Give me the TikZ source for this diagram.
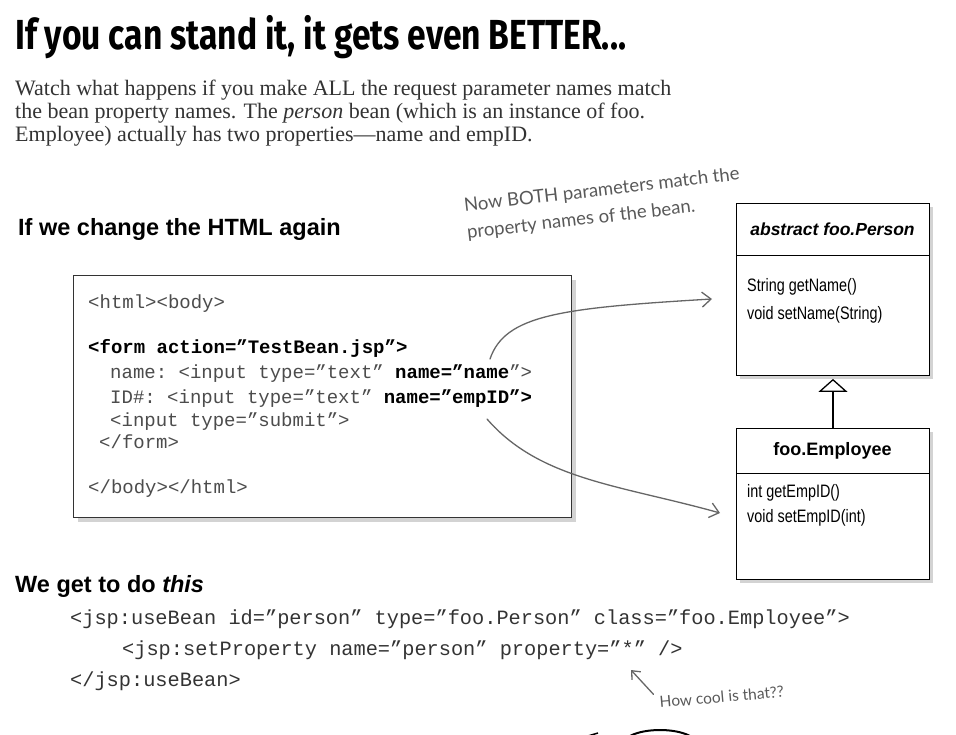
\documentclass[tikz,border=0pt]{standalone}
\usepackage{fontspec}
\setmainfont{Liberation Serif}
\setsansfont{Liberation Sans}
\setmonofont{Liberation Mono}
\newfontfamily\titlefont[FakeStretch=0.8]{Fira Sans}
\newfontfamily\handfont{Lato}
\newfontfamily\narrowfont[FakeStretch=0.8]{Liberation Sans}
\usetikzlibrary{arrows.meta,shadows,calc}

\tikzset{
    umlbox/.style={draw=black, fill=white, line width=0.9pt, anchor=north west,
        inner sep=0pt, drop shadow={shadow xshift=4pt, shadow yshift=-4pt, opacity=0.35}},
    codebox/.style={draw=black!80, fill=white, line width=0.9pt, anchor=north west,
        inner sep=0pt, drop shadow={shadow xshift=5pt, shadow yshift=-5pt, opacity=0.35}},
    codeline/.style={anchor=base west, inner sep=0pt, text=black!70,
        font=\ttfamily\fontsize{19}{22}\selectfont},
    jspline/.style={anchor=base west, inner sep=0pt, text=black!80,
        font=\ttfamily\fontsize{20.3}{24}\selectfont},
    method/.style={anchor=base west, inner sep=0pt, font=\narrowfont\fontsize{18}{22}\selectfont},
    heading/.style={anchor=base west, inner sep=0pt, font=\sffamily\bfseries\fontsize{23.5}{26}\selectfont},
    bodytext/.style={anchor=base west, inner sep=0pt, text=black!80, font=\fontsize{22}{24}\selectfont},
    hand/.style={anchor=base west, inner sep=0pt, text=black!65, rotate=6.6,
        font=\handfont\fontsize{18.5}{27}\selectfont},
    scribble/.style={draw=black!60, line width=1.3pt, line cap=round},
}

\begin{document}
\begin{tikzpicture}[x=1pt, y=-1pt]
    \useasboundingbox (0,0) rectangle (956,735);

    % title and intro
    \node[anchor=base west, inner sep=0pt, font=\titlefont\bfseries\fontsize{42}{44}\selectfont] (title) at (15,50)
        {If you can stand it, it gets even BETTER...};
    \node[bodytext] (intro1) at (15,96) {Watch what happens if you make ALL the request parameter names match};
    \node[bodytext] (intro2) at (15,119) {the bean property names. The \textit{person} bean (which is an instance of foo.};
    \node[bodytext] (intro3) at (15,142) {Employee) actually has two properties---name and empID.};

    \node[heading] (change) at (18,236) {If we change the HTML again};
    \node[hand, anchor=north west, align=left] (note) at (463,198)
        {Now BOTH parameters match the\\property names of the bean.};

    % the html form
    \node[codebox, minimum width=498, minimum height=242] (form) at (73,275) {};
    \node[codeline] (l1) at (88,309) {<html><body>};
    \node[codeline, text=black] (l2) at (88,354) {\bfseries <form action=”TestBean.jsp”>};
    \node[codeline] (l3) at (110,378) {name: <input type=”text” \textbf{\color{black}name=”name}”>};
    \node[codeline] (l4) at (110,403) {ID\#: <input type=”text” \textbf{\color{black}name=”empID”>}};
    \node[codeline] (l5) at (110,426) {<input type=”submit”>};
    \node[codeline] (l6) at (99,448) {</form>};
    \node[codeline] (l7) at (88,493) {</body></html>};

    % the beans
    \node[umlbox, minimum width=193, minimum height=172] (person) at (736,203) {};
    \draw[line width=0.9pt] (736,255) -- (929,255);
    \node[inner sep=0pt, font=\sffamily\bfseries\itshape\fontsize{17.5}{21}\selectfont] (personname) at (832.5,229)
        {abstract foo.Person};
    \node[method] (m1) at (747,292) {String getName()};
    \node[method] (m2) at (747,320) {void setName(String)};

    \node[umlbox, minimum width=193, minimum height=151] (employee) at (736,428) {};
    \draw[line width=0.9pt] (736,473) -- (929,473);
    \node[inner sep=0pt, font=\sffamily\bfseries\fontsize{18}{21}\selectfont] (employeename) at (832.5,451)
        {foo.Employee};
    \node[method] (m3) at (747,497) {int getEmpID()};
    \node[method] (m4) at (747,522) {void setEmpID(int)};

    \draw[line width=1.3pt, -{Triangle[open, length=13pt, width=29pt, line width=1.3pt]}]
        (employee.north) -- ($(person.south)+(0,3)$);

    % connectors from the form to the beans
    \coordinate (namesrc) at (490,359);
    \coordinate (namedst) at (712,299);
    \coordinate (idsrc) at (487,419);
    \coordinate (iddst) at (720,513);
    \draw[scribble, -{Straight Barb[length=9pt, width=15pt, line width=1.3pt]}]
        (namesrc) .. controls (505,315) and (560,308) .. (namedst);
    \draw[scribble, -{Straight Barb[length=9pt, width=15pt, line width=1.3pt]}]
        (idsrc) .. controls (540,480) and (620,485) .. (iddst);

    % jsp
    \node[heading] (doit) at (15,592) {We get to do \textit{this}};
    \node[jspline] (j1) at (70,624) {<jsp:useBean id=”person” type=”foo.Person” class=”foo.Employee”>};
    \node[jspline] (j2) at (122,655) {<jsp:setProperty name=”person” property=”*” />};
    \node[jspline] (j3) at (70,686) {</jsp:useBean>};

    \node[hand, rotate=-1.6, font=\handfont\fontsize{15.5}{19}\selectfont] (cool) at (660,708) {How cool is that??};
    \coordinate (star) at (631,670);
    \draw[scribble, -{Straight Barb[length=7pt, width=12pt, line width=1.3pt]}]
        ($(cool.west)+(-6,-8)$) -- (star);

    % edge of the next picture
    \draw[line width=2pt] (630,736) .. controls (645,728) and (675,728) .. (690,736);
    \draw[line width=1.5pt] (588,736) -- (598,733);
\end{tikzpicture}
\end{document}
